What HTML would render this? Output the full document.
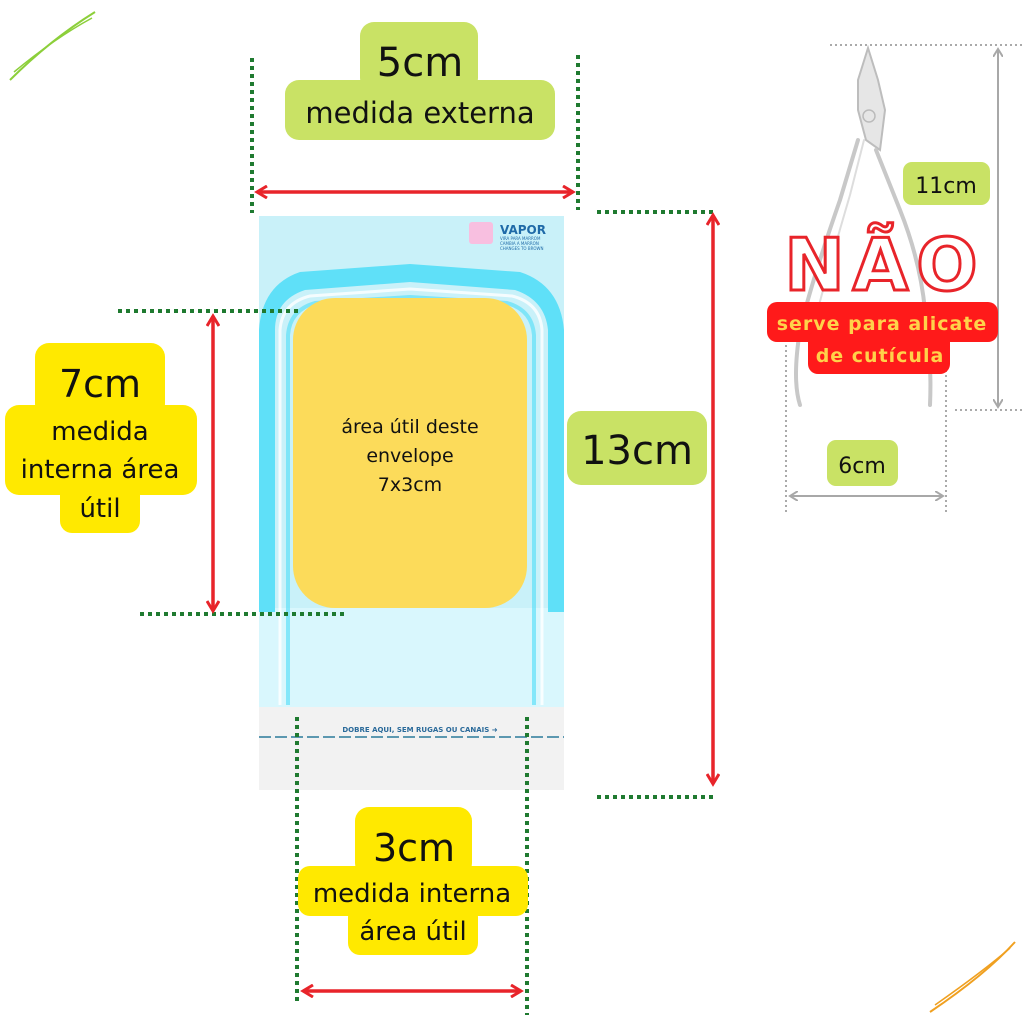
<!DOCTYPE html>
<html><head><meta charset="utf-8"><style>
html,body{margin:0;padding:0;background:#fff;}
svg{display:block;font-family:"DejaVu Sans","Liberation Sans",sans-serif;}
</style></head><body>
<svg width="1024" height="1024" viewBox="0 0 1024 1024" xmlns="http://www.w3.org/2000/svg">
<defs>
<marker id="ar" markerWidth="14" markerHeight="14" refX="10" refY="7" orient="auto-start-reverse" markerUnits="userSpaceOnUse"><path d="M1,1 L11,7 L1,13" fill="none" stroke="#e8242a" stroke-width="3"/></marker>
<marker id="ag" markerWidth="10" markerHeight="10" refX="7" refY="5" orient="auto-start-reverse" markerUnits="userSpaceOnUse"><path d="M0,0 L8,5 L0,10" fill="none" stroke="#a8a8a8" stroke-width="2"/></marker>
</defs>
<path d="M10,80 Q50,40 95,12" stroke="#8ccf3a" stroke-width="2" fill="none"/>
<path d="M14,72 Q55,38 92,18" stroke="#8ccf3a" stroke-width="1.5" fill="none"/>
<path d="M930,1012 Q985,975 1015,942" stroke="#f0a020" stroke-width="2" fill="none"/>
<path d="M935,1005 Q985,970 1010,948" stroke="#f0a020" stroke-width="1.5" fill="none"/>

<rect x="259" y="216" width="305" height="574" fill="#c9f1f9"/>
<rect x="259" y="608" width="305" height="100" fill="#d9f7fd"/>
<path d="M259,370 L259,330 Q262,285 300,272 L410,264 L520,272 Q560,285 564,330 L564,612 L548,612 L548,330 Q545,300 515,290 L410,282 L305,290 Q275,300 275,330 L275,612 L259,612Z" fill="#5fe0f8"/>
<path d="M280,705 L280,330 Q282,303 310,296 L410,289 L512,296 Q540,303 542,330 L542,705" fill="none" stroke="#ffffff" stroke-width="3" opacity="0.8"/>
<path d="M288,705 L288,335 Q290,310 315,303 L410,297 L507,303 Q532,310 534,335 L534,705" fill="none" stroke="#5fe0f8" stroke-width="4" opacity="0.7"/>
<rect x="259" y="707" width="305" height="83" fill="#f2f2f2"/>
<line x1="259" y1="737" x2="564" y2="737" stroke="#2a7a9a" stroke-width="1.5" stroke-dasharray="12,4"/>
<text x="420" y="732" font-size="7" font-weight="bold" fill="#2a6a9a" text-anchor="middle">DOBRE AQUI, SEM RUGAS OU CANAIS ➜</text>
<rect x="469" y="222" width="24" height="22" rx="3" fill="#f8bfe0"/>
<text x="500" y="234" font-size="12" font-weight="bold" fill="#1f6aa8">VAPOR</text>
<text x="500" y="240" font-size="4" fill="#1f6aa8">VIRA PARA MARROM</text>
<text x="500" y="245" font-size="4" fill="#1f6aa8">CAMBIA A MARRON</text>
<text x="500" y="250" font-size="4" fill="#1f6aa8">CHANGES TO BROWN</text>
<rect x="293" y="298" width="234" height="310" rx="42" fill="#fcdb5a"/>
<text font-size="19" fill="#111" text-anchor="middle"><tspan x="410" y="433">área útil deste</tspan><tspan x="410" y="462">envelope</tspan><tspan x="410" y="491">7x3cm</tspan></text>

<g stroke="#1f7a30" stroke-width="4" stroke-dasharray="4,4" fill="none">
<line x1="252" y1="58" x2="252" y2="213"/><line x1="578" y1="55" x2="578" y2="210"/>
<line x1="597" y1="212" x2="715" y2="212"/><line x1="597" y1="797" x2="715" y2="797"/>
<line x1="118" y1="311" x2="300" y2="311"/><line x1="140" y1="614" x2="348" y2="614"/>
<line x1="297" y1="717" x2="297" y2="1005"/><line x1="527" y1="717" x2="527" y2="1015"/>
</g>
<g stroke="#e8242a" stroke-width="3.5" fill="none">
<line x1="258" y1="192" x2="572" y2="192" marker-start="url(#ar)" marker-end="url(#ar)"/>
<line x1="713" y1="216" x2="713" y2="783" marker-start="url(#ar)" marker-end="url(#ar)"/>
<line x1="213" y1="317" x2="213" y2="610" marker-start="url(#ar)" marker-end="url(#ar)"/>
<line x1="304" y1="991" x2="520" y2="991" marker-start="url(#ar)" marker-end="url(#ar)"/>
</g>

<rect x="360" y="22" width="118" height="70" rx="14" fill="#c9e265"/>
<rect x="285" y="80" width="270" height="60" rx="14" fill="#c9e265"/>
<text x="420" y="76" font-size="40" fill="#111" text-anchor="middle">5cm</text>
<text x="420" y="123" font-size="29" fill="#111" text-anchor="middle">medida externa</text>
<rect x="567" y="411" width="140" height="74" rx="14" fill="#c9e265"/>
<text x="637" y="464" font-size="40" fill="#111" text-anchor="middle">13cm</text>
<rect x="35" y="343" width="130" height="75" rx="14" fill="#ffe900"/>
<rect x="5" y="405" width="192" height="90" rx="14" fill="#ffe900"/>
<rect x="60" y="480" width="80" height="53" rx="12" fill="#ffe900"/>
<text x="100" y="397" font-size="38" fill="#111" text-anchor="middle">7cm</text>
<text font-size="26" fill="#111" text-anchor="middle"><tspan x="100" y="440">medida</tspan><tspan x="100" y="478">interna área</tspan><tspan x="100" y="517">útil</tspan></text>
<rect x="355" y="807" width="117" height="70" rx="14" fill="#ffe900"/>
<rect x="298" y="866" width="230" height="50" rx="12" fill="#ffe900"/>
<rect x="348" y="905" width="130" height="50" rx="12" fill="#ffe900"/>
<text x="414" y="861" font-size="38" fill="#111" text-anchor="middle">3cm</text>
<text x="412" y="902" font-size="26" fill="#111" text-anchor="middle">medida interna</text>
<text x="413" y="940" font-size="26" fill="#111" text-anchor="middle">área útil</text>

<g fill="none" stroke="#c8c8c8" stroke-width="4" stroke-linecap="round">
<path d="M868,48 L858,80 L858,110 L866,140 L880,150 L885,110 L878,80Z" fill="#e6e6e6" stroke="#bdbdbd" stroke-width="2"/>
<circle cx="869" cy="116" r="6" stroke-width="1.5" stroke="#bbb"/>
<path d="M858,140 L840,200 Q812,280 800,330 Q792,380 800,405"/>
<path d="M876,150 L900,210 Q920,260 925,310 Q932,360 930,405"/>
<path d="M864,140 L850,195 Q825,280 810,340" stroke-width="2" stroke="#ddd"/>
</g>
<g stroke="#aaa" stroke-width="2" stroke-dasharray="2,3" fill="none">
<line x1="830" y1="45" x2="1022" y2="45"/><line x1="955" y1="410" x2="1022" y2="410"/>
<line x1="786" y1="330" x2="786" y2="512"/><line x1="946" y1="330" x2="946" y2="512"/>
</g>
<line x1="998" y1="50" x2="998" y2="406" stroke="#a8a8a8" stroke-width="2" marker-start="url(#ag)" marker-end="url(#ag)"/>
<line x1="791" y1="496" x2="942" y2="496" stroke="#a8a8a8" stroke-width="2" marker-start="url(#ag)" marker-end="url(#ag)"/>
<rect x="903" y="162" width="87" height="43" rx="9" fill="#c9e265"/>
<text x="946" y="193" font-size="22" fill="#111" text-anchor="middle">11cm</text>
<rect x="827" y="440" width="71" height="46" rx="9" fill="#c9e265"/>
<text x="862" y="473" font-size="22" fill="#111" text-anchor="middle">6cm</text>
<text x="885" y="290" font-size="72" font-weight="bold" fill="#fff" stroke="#e8242a" stroke-width="3" text-anchor="middle" letter-spacing="8">NÃO</text>
<rect x="767" y="302" width="231" height="40" rx="10" fill="#ff1a1a"/>
<rect x="808" y="330" width="142" height="44" rx="10" fill="#ff1a1a"/>
<text x="882" y="330" font-size="19" font-weight="bold" fill="#ffd24a" text-anchor="middle" letter-spacing="1">serve para alicate</text>
<text x="880" y="362" font-size="19" font-weight="bold" fill="#ffd24a" text-anchor="middle" letter-spacing="1">de cutícula</text>
</svg>
</body></html>
